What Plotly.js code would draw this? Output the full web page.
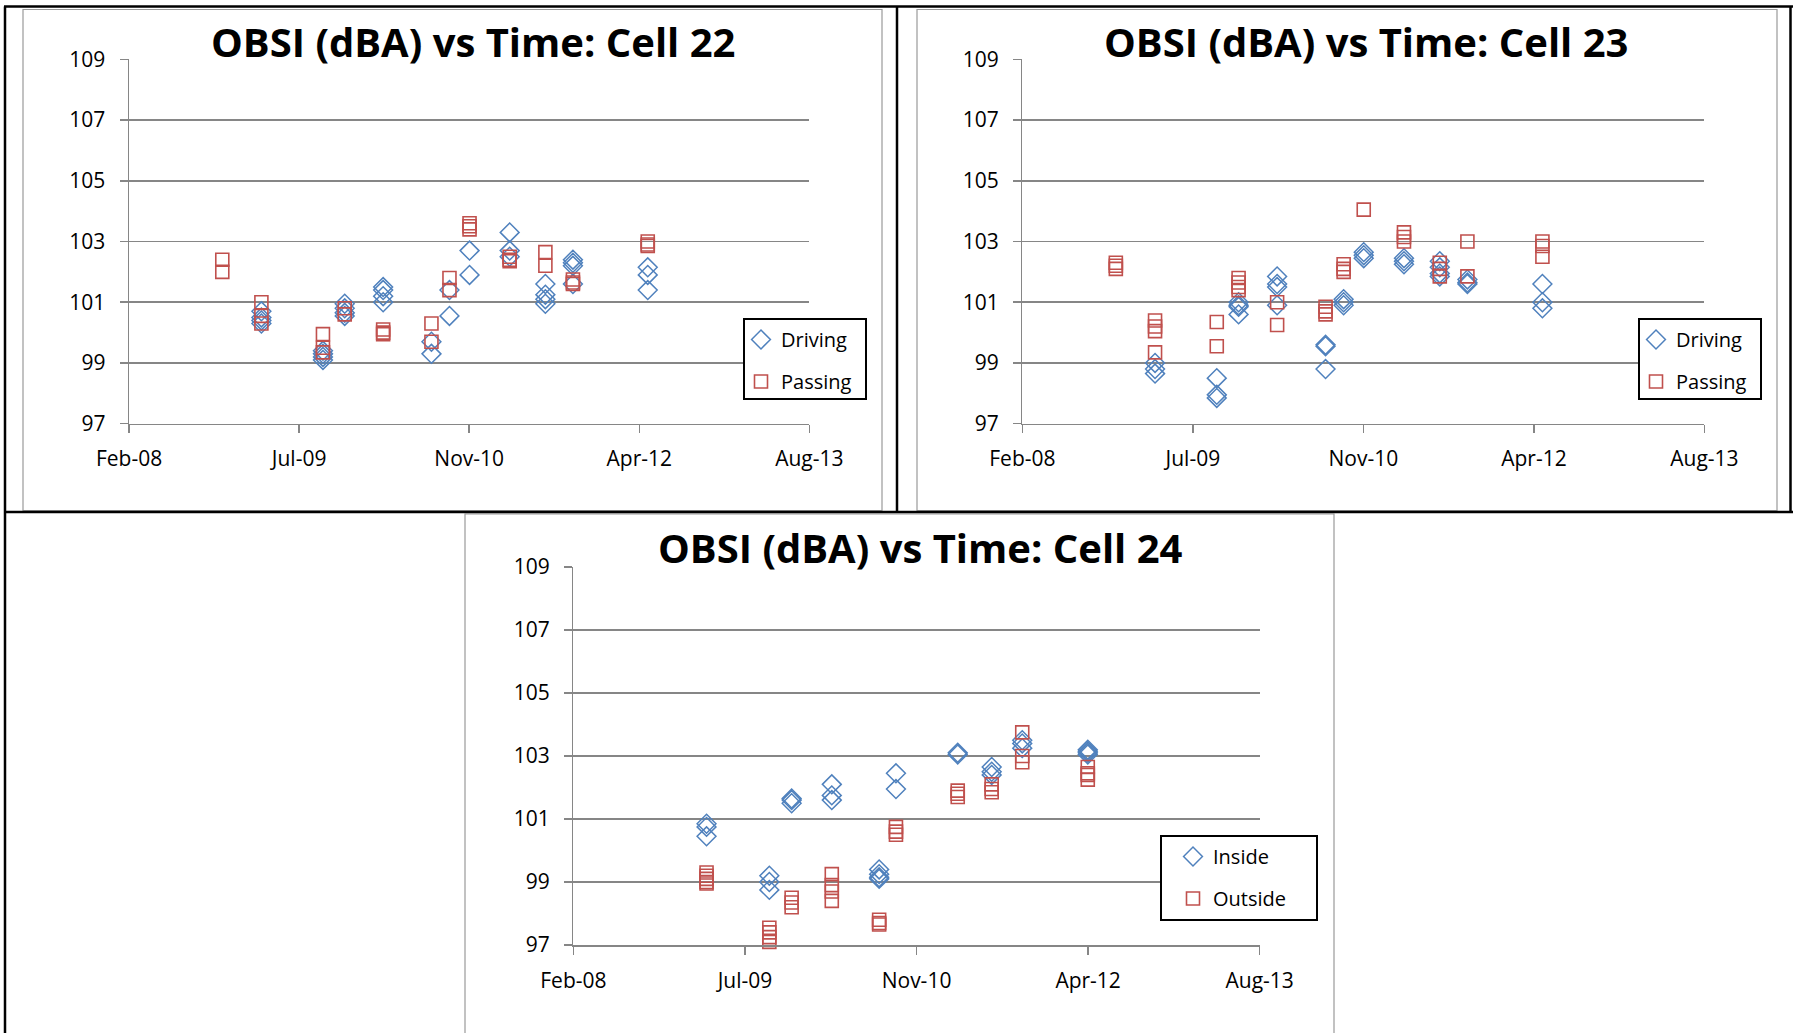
<!DOCTYPE html>
<html>
<head>
<meta charset="utf-8">
<script src="https://cdn.plot.ly/plotly-3.0.1.min.js"></script>
<style>
html,body{margin:0;padding:0;background:#fff;}
#chart{width:1793px;height:1033px;}
</style>
</head>
<body>
<div id="chart"></div>
<script>
// ---------------- DATA ----------------
const xTickDates = ['2008-02-22', '2009-07-06', '2010-11-18', '2012-04-01', '2013-08-14'];
const yTicks = [97, 99, 101, 103, 105, 107, 109];

// Cell 22
const cell22Dates = ['2008-11-22', '2009-03-17', '2009-09-14', '2009-11-17', '2010-03-10', '2010-07-30',
                     '2010-09-21', '2010-11-19', '2011-03-17', '2011-06-30', '2011-09-19', '2012-04-26'];
const cell22Driving = [[], [100.7, 100.5, 100.4, 100.3], [99.4, 99.3, 99.2, 99.1], [100.95, 100.8, 100.65, 100.55],
                       [101.5, 101.4, 101.2, 101.0], [99.7, 99.3], [101.4, 100.55], [102.7, 101.9],
                       [103.3, 102.7, 102.5], [101.6, 101.25, 101.1, 100.95], [102.4, 102.3, 102.2, 101.6],
                       [102.15, 101.9, 101.4]];
const cell22Passing = [[102.4, 102.0], [101.0, 100.55, 100.3], [99.95, 99.5, 99.35], [100.8, 100.6],
                       [100.1, 100.0, 99.95], [100.3, 99.7], [101.8, 101.4], [103.6, 103.5, 103.4],
                       [102.5, 102.4, 102.35], [102.65, 102.2], [101.75, 101.65, 101.6], [103.0, 102.9, 102.85]];

// Cell 23
const cell23Dates = cell22Dates;
const cell23Driving = [[], [99.0, 98.8, 98.65], [98.5, 97.95, 97.85], [101.0, 100.9, 100.85, 100.6],
                       [101.85, 101.6, 101.5, 100.9], [99.6, 99.55, 98.8], [101.1, 101.0, 100.9],
                       [102.65, 102.55, 102.45], [102.45, 102.35, 102.25], [102.35, 102.15, 101.95, 101.85],
                       [101.75, 101.65, 101.6], [101.6, 101.0, 100.8]];
const cell23Passing = [[102.3, 102.2, 102.1], [100.4, 100.2, 100.05, 99.35], [100.35, 99.55],
                       [101.8, 101.65, 101.5, 101.4], [101.0, 100.25], [100.85, 100.7, 100.6],
                       [102.25, 102.1, 102.0], [104.05], [103.3, 103.15, 103.0], [102.3, 102.1, 101.85],
                       [103.0, 101.85], [103.0, 102.85, 102.5]];

// Cell 24
const cell24Dates = ['2009-03-16', '2009-09-15', '2009-11-19', '2010-03-16', '2010-08-01', '2010-09-19',
                     '2011-03-18', '2011-06-25', '2011-09-22', '2012-03-31'];
const cell24Inside = [[100.85, 100.75, 100.45], [99.2, 99.0, 98.75], [101.65, 101.6, 101.5], [102.1, 101.75, 101.6],
                      [99.4, 99.25, 99.15, 99.1], [102.45, 101.95], [103.1, 103.05], [102.65, 102.5, 102.4],
                      [103.5, 103.4, 103.25], [103.2, 103.15, 103.1, 103.05]];
const cell24Outside = [[99.3, 99.2, 99.1, 99.0, 98.95], [97.55, 97.4, 97.25, 97.1], [98.5, 98.35, 98.2],
                       [99.25, 98.9, 98.7, 98.4], [97.8, 97.7, 97.65], [100.75, 100.6, 100.5],
                       [101.9, 101.8, 101.7], [102.1, 101.95, 101.85], [103.75, 103.0, 102.8],
                       [102.65, 102.45, 102.4, 102.25]];

const titles = ['OBSI (dBA) vs Time: Cell 22', 'OBSI (dBA) vs Time: Cell 23', 'OBSI (dBA) vs Time: Cell 24'];
const seriesNames = [['Driving', 'Passing'], ['Driving', 'Passing'], ['Inside', 'Outside']];

// ---------------- LAYOUT HELPERS ----------------
const W = 1793, H = 1033;
const fx = p => p / W;
const fy = p => 1 - p / H;
const BLUE = '#4F81BD', RED = '#C0504D', GRID = '#868686';
const FONT = 'Open Sans, Liberation Sans, sans-serif';

function expand(dates, groups) {
  const x = [], y = [];
  groups.forEach((g, i) => g.forEach(v => { x.push(dates[i]); y.push(v); }));
  return {x, y};
}

const charts = [
  {dates: cell22Dates, a: cell22Driving, b: cell22Passing},
  {dates: cell23Dates, a: cell23Driving, b: cell23Passing},
  {dates: cell24Dates, a: cell24Inside, b: cell24Outside}
];

const traces = [];
charts.forEach((c, i) => {
  const sfx = i === 0 ? '' : String(i + 1);
  const A = expand(c.dates, c.a), B = expand(c.dates, c.b);
  const legendId = 'legend' + sfx;
  traces.push({
    type: 'scatter', mode: 'markers', name: seriesNames[i][0], x: A.x, y: A.y,
    xaxis: 'x' + sfx, yaxis: 'y' + sfx, legend: legendId, legendgroup: 'g' + i + 'a',
    cliponaxis: false,
    marker: {symbol: 'diamond-open', size: 14.5, color: BLUE, line: {width: 1.5, color: BLUE}}
  });
  traces.push({
    type: 'scatter', mode: 'markers', name: seriesNames[i][1], x: B.x, y: B.y,
    xaxis: 'x' + sfx, yaxis: 'y' + sfx, legend: legendId, legendgroup: 'g' + i + 'b',
    cliponaxis: false,
    marker: {symbol: 'square-open', size: 13, color: RED, line: {width: 1.6, color: RED}}
  });
});

function xAxis(domain, anchor) {
  return {
    domain: domain, anchor: anchor, type: 'date',
    range: [xTickDates[0], xTickDates[xTickDates.length - 1]],
    tickmode: 'array', tickvals: xTickDates, tickformat: '%b-%y',
    showgrid: false, zeroline: false, showline: true, linecolor: GRID, linewidth: 1.5,
    ticks: 'outside', ticklen: 8, tickwidth: 1.5, tickcolor: GRID,
    ticklabelstandoff: 8,
    tickfont: {family: FONT, size: 21, color: '#000'}
  };
}
function yAxis(domain, anchor) {
  return {
    domain: domain, anchor: anchor, range: [97, 109],
    tickmode: 'array', tickvals: yTicks,
    showgrid: true, gridcolor: GRID, gridwidth: 1.5, zeroline: false,
    showline: true, linecolor: GRID, linewidth: 1.5,
    ticks: 'outside', ticklen: 8, tickwidth: 1.5, tickcolor: GRID,
    ticklabelstandoff: 10,
    tickfont: {family: FONT, size: 21, color: '#000'}
  };
}

function legendAt(left, top) {
  return {
    x: fx(left), y: fy(top), xanchor: 'left', yanchor: 'top',
    bgcolor: 'rgba(0,0,0,0)', borderwidth: 0,
    font: {family: FONT, size: 20, color: '#000'},
    traceorder: 'grouped', tracegroupgap: 13, itemwidth: 30
  };
}

const line = (x0, y0, x1, y1, color, width) => ({
  type: 'line', xref: 'paper', yref: 'paper', x0: fx(x0), y0: fy(y0), x1: fx(x1), y1: fy(y1),
  line: {color: color, width: width}, layer: 'above'
});
const rect = (x0, y0, x1, y1, color, width, fill, layer) => ({
  type: 'rect', xref: 'paper', yref: 'paper', x0: fx(x0), y0: fy(y0), x1: fx(x1), y1: fy(y1),
  line: {color: color, width: width}, fillcolor: fill, layer: layer
});

const shapes = [
  // chart frames (grey)
  rect(23, 9.5, 882, 510.5, '#9a9a9a', 1.2, 'rgba(0,0,0,0)', 'below'),
  rect(917, 9.5, 1777, 510.5, '#9a9a9a', 1.2, 'rgba(0,0,0,0)', 'below'),
  rect(465, 514, 1334, 1040, '#9a9a9a', 1.2, 'rgba(0,0,0,0)', 'below'),
  // table borders (black)
  line(4, 6.5, 1793, 6.5, '#000', 2.5),
  line(5, 6.5, 5, 1033, '#000', 2.5),
  line(897, 6.5, 897, 512, '#000', 2.5),
  line(1790.5, 6.5, 1790.5, 512, '#000', 2.5),
  line(4, 512, 1793, 512, '#000', 2.5),
  // legend boxes
  rect(744, 319, 866, 399, '#000', 2, '#fff', 'above'),
  rect(1639, 319, 1761, 399, '#000', 2, '#fff', 'above'),
  rect(1161, 836, 1317, 920, '#000', 2, '#fff', 'above')
];

const titleAnn = (cx, cy, text) => ({
  xref: 'paper', yref: 'paper', x: fx(cx), y: fy(cy), xanchor: 'center', yanchor: 'middle',
  text: text, showarrow: false,
  font: {family: FONT, size: 40, color: '#000', weight: 700}
});

const layout = {
  width: W, height: H, margin: {l: 0, r: 0, t: 0, b: 0},
  paper_bgcolor: '#fff', plot_bgcolor: 'rgba(0,0,0,0)',
  showlegend: true,
  xaxis: xAxis([fx(129.1), fx(809.3)], 'y'),
  yaxis: yAxis([fy(423.7), fy(59.3)], 'x'),
  xaxis2: xAxis([fx(1022.4), fx(1704.4)], 'y2'),
  yaxis2: yAxis([fy(423.7), fy(59.3)], 'x2'),
  xaxis3: xAxis([fx(573.4), fx(1259.7)], 'y3'),
  yaxis3: yAxis([fy(945), fy(567)], 'x3'),
  legend: legendAt(741, 320),
  legend2: legendAt(1636, 320),
  legend3: legendAt(1173, 837),
  shapes: shapes,
  annotations: [
    titleAnn(473.5, 42, titles[0]),
    titleAnn(1365.5, 42, titles[1]),
    titleAnn(920.5, 547, titles[2])
  ]
};

Plotly.newPlot('chart', traces, layout, {displayModeBar: false, staticPlot: true});
</script>
</body>
</html>
